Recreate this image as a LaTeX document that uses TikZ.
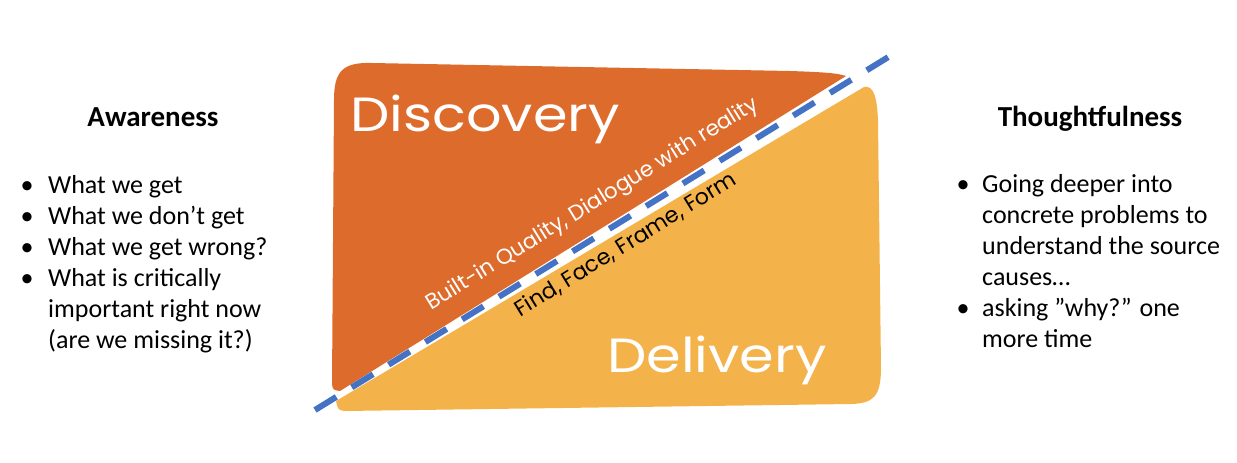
\documentclass[tikz,border=0pt]{standalone}
\usepackage{fontspec}
\setmainfont{Carlito}
\newfontfamily\hand{Poppins}
\usetikzlibrary{calc}
\definecolor{dkor}{HTML}{DD6B2C}
\definecolor{ltor}{HTML}{F4B34A}
\definecolor{lineblue}{HTML}{4472C4}
\tikzset{
  body/.style={inner sep=0pt, font=\fontsize{26}{31}\selectfont, align=left},
  head/.style={inner sep=0pt, font=\bfseries\fontsize{29}{34}\selectfont},
  bigword/.style={inner sep=0pt, text=white, xscale=1.16, font=\hand\fontsize{48}{56}\selectfont},
  diag/.style={inner sep=0pt, rotate=31.62},
  divider/.style={lineblue, line width=6pt, dash pattern=on 25pt off 18.2pt}
}
\begin{document}
\begin{tikzpicture}[x=1pt,y=-1pt]
\useasboundingbox (0,0) rectangle (1237,463);
% shapes
\fill[dkor] (340,391) -- (846,76) .. controls (838,73) and (820,72) .. (790,71)
  -- (372,63) .. controls (342,62) and (334,72) .. (334,100) -- (332,384)
  .. controls (333,390) .. cycle;
\fill[ltor] (336,401) -- (864,87) .. controls (874,85) and (877,98) .. (878,120)
  -- (881,368) .. controls (881,398) and (872,403) .. (852,404)
  -- (345,411) .. controls (338,410) .. cycle;
% divider
\coordinate (p1) at (315,410);
\coordinate (p2) at (890,56);
\draw[divider] (p1) -- (p2);
% big words
\node[bigword, anchor=base west] (disc) at (350,131) {Discovery};
\node[bigword, anchor=base west] (deli) at (607,372) {Delivery};
% diagonal texts
\coordinate (m1) at ($(p1)!0.51!(p2)$);
\coordinate (m2) at ($(p1)!0.52!(p2)$);
\node[diag, text=white, anchor=base, font=\hand\fontsize{21.5}{24}\selectfont] (bq) at ($(m1)!24pt!90:(p2)$) {Built-in Quality, Dialogue with reality};
\node[diag, text=black, anchor=base, font=\hand\fontsize{22}{25}\selectfont] (ff) at ($(m2)!29pt!-90:(p2)$) {Find, Face, Frame, Form};
% left
\node[head, anchor=base] (awh) at (153,126) {Awareness};
\node[body, anchor=base west] (awl) at (20.5,193) {\begin{tabular}[t]{@{}p{27.5pt}@{}l@{}}
\textbullet & What we get\\
\textbullet & What we don’t get\\
\textbullet & What we get wrong?\\
\textbullet & What is critically\\
 & important right now\\
 & (are we missing it?)
\end{tabular}};
% right
\node[head, anchor=base] (thh) at (1090,126) {Thoughtfulness};
\node[body, anchor=base west] (thl) at (956.5,192) {\begin{tabular}[t]{@{}p{25.5pt}@{}l@{}}
\textbullet & Going deeper into\\
 & concrete problems to\\
 & understand the source\\
 & causes…\\
\textbullet & asking ”why?” one\\
 & more time
\end{tabular}};
\end{tikzpicture}
\end{document}
